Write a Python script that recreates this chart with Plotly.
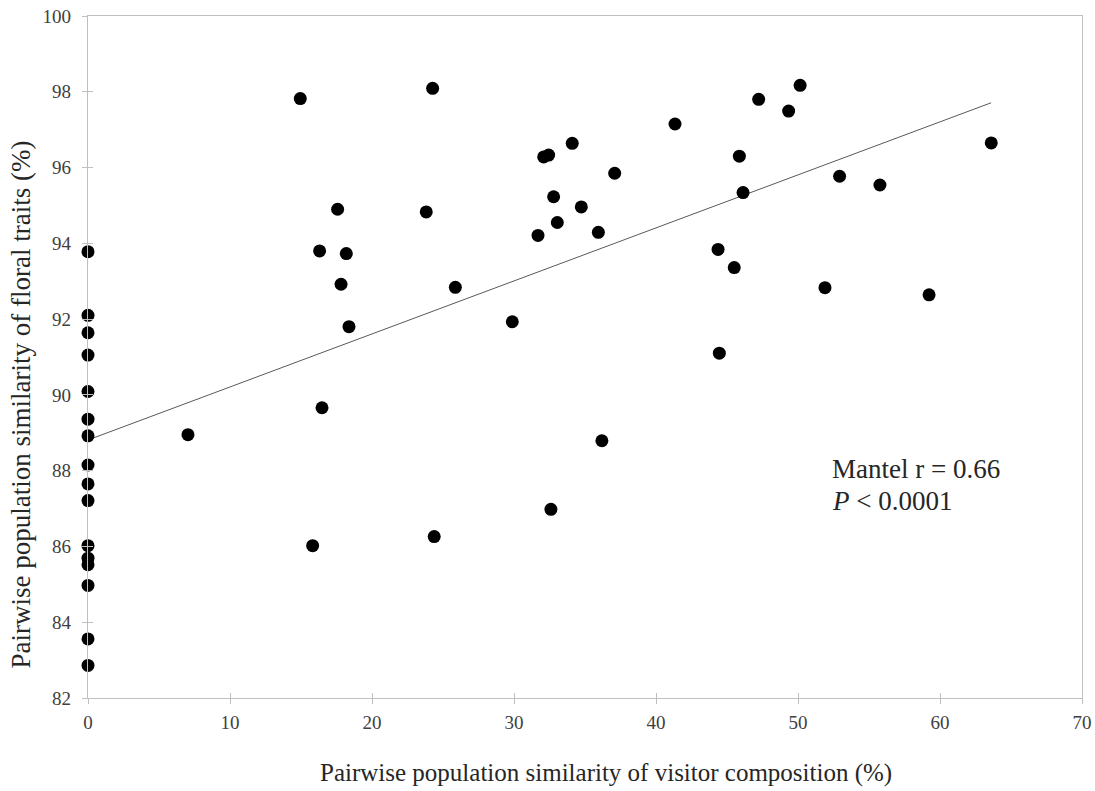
import plotly.graph_objects as go

# Data
visitor_similarity = [
    0, 0, 0, 0, 0, 0, 0, 0, 0, 0, 0, 0, 0, 0, 0, 0,
    7.04, 14.95, 15.82, 16.31, 16.48, 17.58, 17.82, 18.19, 18.38,
    23.82, 24.27, 24.38, 25.87, 29.88, 31.69, 32.09, 32.44, 32.60, 32.79,
    33.05, 34.10, 34.74, 35.94, 36.19, 37.09, 41.34, 44.37, 44.46, 45.51,
    45.87, 46.13, 47.23, 49.34, 50.15, 51.90, 52.93, 55.77, 59.23, 63.61,
]
floral_similarity = [
    93.78, 92.10, 91.64, 91.05, 90.09, 89.36, 88.92, 88.15, 87.65, 87.21,
    86.02, 85.69, 85.52, 84.97, 83.56, 82.86,
    88.95, 97.82, 86.02, 93.80, 89.66, 94.90, 92.92, 93.73, 91.80,
    94.83, 98.09, 86.26, 92.84, 91.93, 94.21, 96.28, 96.33, 86.98, 95.23,
    94.55, 96.64, 94.96, 94.29, 88.79, 95.85, 97.15, 93.84, 91.10, 93.36,
    96.30, 95.34, 97.80, 97.49, 98.17, 92.83, 95.77, 95.54, 92.64, 96.65,
]
trend_x = [0, 63.6]
trend_y = [88.81, 97.71]

x_ticks = [0, 10, 20, 30, 40, 50, 60, 70]
y_ticks = [82, 84, 86, 88, 90, 92, 94, 96, 98, 100]

x_title = "Pairwise population similarity of visitor composition (%)"
y_title = "Pairwise population similarity of floral traits (%)"
stats_line1 = "Mantel r = 0.66"
stats_line2 = "<i>P</i> &lt; 0.0001"

FONT = "Liberation Serif, Times New Roman, serif"
AXIS_GRAY = "#bfbfbf"
TEXT = "#262626"

fig = go.Figure()
fig.add_trace(go.Scatter(
    x=trend_x, y=trend_y, mode="lines",
    line=dict(color="#595959", width=1), hoverinfo="skip", showlegend=False,
))
fig.add_trace(go.Scatter(
    x=visitor_similarity, y=floral_similarity, mode="markers",
    marker=dict(color="black", size=13, line=dict(width=0)),
    cliponaxis=False, showlegend=False,
))
# invisible trace to anchor overlay axes (for crossing ticks)
fig.add_trace(go.Scatter(
    x=[x_ticks[0]], y=[y_ticks[0]], xaxis="x2", yaxis="y2", mode="markers",
    marker=dict(opacity=0), hoverinfo="skip", showlegend=False,
))

axis_common = dict(
    showgrid=False, zeroline=False, automargin=False,
    showline=True, linecolor=AXIS_GRAY, linewidth=1.3, mirror=True,
    ticks="outside", ticklen=5, tickcolor=AXIS_GRAY,
    tickfont=dict(size=19, color="#404040", family=FONT),
)
overlay_common = dict(
    showgrid=False, zeroline=False, showline=False, automargin=False,
    ticks="inside", ticklen=5, tickcolor=AXIS_GRAY, showticklabels=False,
)

fig.update_layout(
    width=1095, height=791,
    margin=dict(l=88, r=13, t=16, b=93),
    plot_bgcolor="white", paper_bgcolor="white",
    font=dict(family=FONT, color=TEXT),
    xaxis=dict(range=[0, 70], tickvals=x_ticks, ticklabelstandoff=2, **axis_common),
    yaxis=dict(range=[82, 100], tickvals=y_ticks, ticklabelstandoff=7, **axis_common),
    xaxis2=dict(range=[0, 70], tickvals=x_ticks, overlaying="x", **overlay_common),
    yaxis2=dict(range=[82, 100], tickvals=y_ticks, overlaying="y", **overlay_common),
    annotations=[
        dict(x=0.5215, y=-0.1094, xref="paper", yref="paper", text=x_title,
             showarrow=False, xanchor="center", yanchor="middle",
             font=dict(size=25, family=FONT, color=TEXT)),
        dict(x=-0.0674, y=0.4304, xref="paper", yref="paper", text=y_title,
             showarrow=False, xanchor="center", yanchor="middle", textangle=-90,
             font=dict(size=27, family=FONT, color=TEXT)),
        dict(x=52.27, y=88.04, xref="x", yref="y", text=stats_line1,
             showarrow=False, xanchor="left", yanchor="middle",
             font=dict(size=27, family=FONT, color=TEXT)),
        dict(x=52.27, y=87.19, xref="x", yref="y", text=stats_line2,
             showarrow=False, xanchor="left", yanchor="middle",
             font=dict(size=27, family=FONT, color=TEXT)),
    ],
)

fig.write_html("out.html")
